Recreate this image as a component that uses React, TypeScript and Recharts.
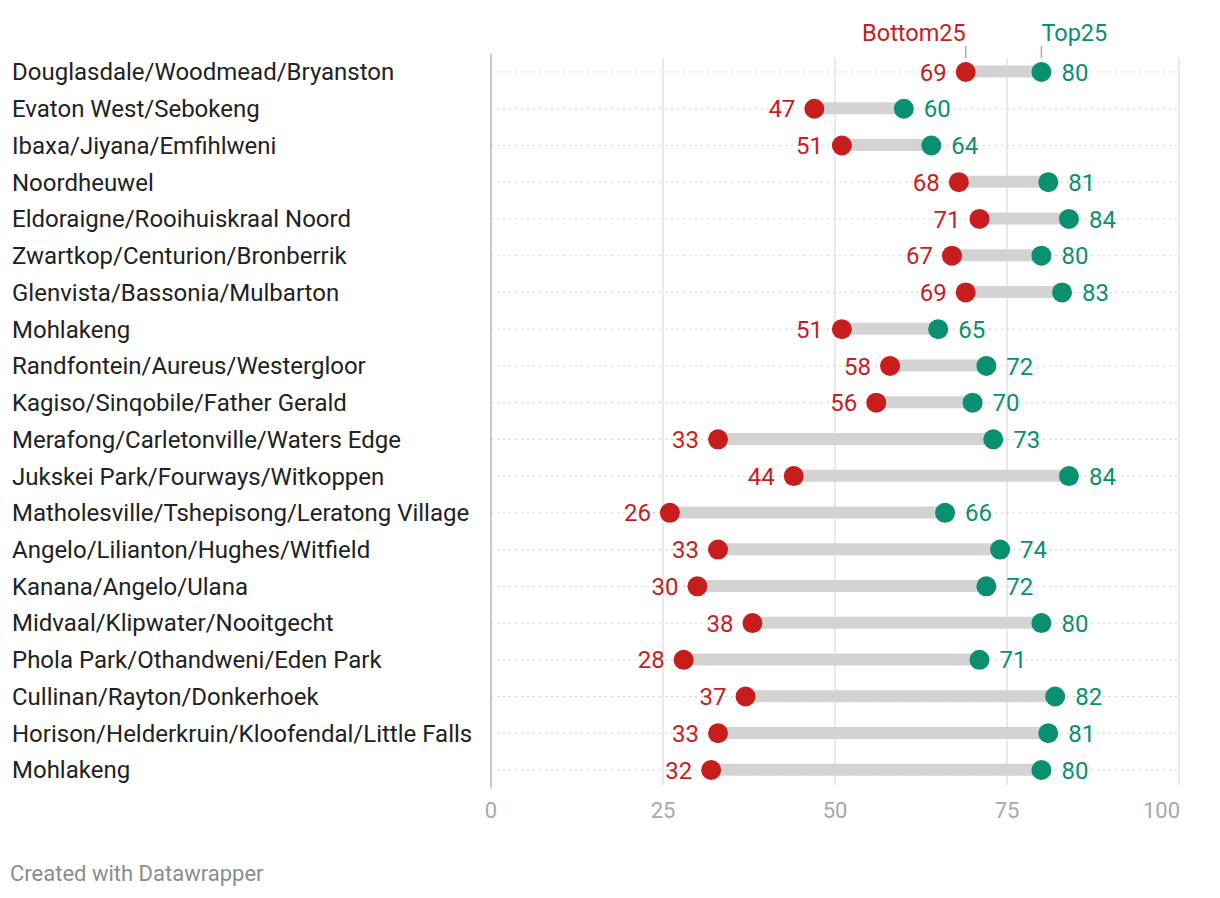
import { Bar, CartesianGrid, ComposedChart, LabelList, Line, ReferenceLine, XAxis, YAxis } from 'recharts';

const areas = [
  'Douglasdale/Woodmead/Bryanston',
  'Evaton West/Sebokeng',
  'Ibaxa/Jiyana/Emfihlweni',
  'Noordheuwel',
  'Eldoraigne/Rooihuiskraal Noord',
  'Zwartkop/Centurion/Bronberrik',
  'Glenvista/Bassonia/Mulbarton',
  'Mohlakeng',
  'Randfontein/Aureus/Westergloor',
  'Kagiso/Sinqobile/Father Gerald',
  'Merafong/Carletonville/Waters Edge',
  'Jukskei Park/Fourways/Witkoppen',
  'Matholesville/Tshepisong/Leratong Village',
  'Angelo/Lilianton/Hughes/Witfield',
  'Kanana/Angelo/Ulana',
  'Midvaal/Klipwater/Nooitgecht',
  'Phola Park/Othandweni/Eden Park',
  'Cullinan/Rayton/Donkerhoek',
  'Horison/Helderkruin/Kloofendal/Little Falls',
  'Mohlakeng',
];
const bottom25 = [69, 47, 51, 68, 71, 67, 69, 51, 58, 56, 33, 44, 26, 33, 30, 38, 28, 37, 33, 32];
const top25 = [80, 60, 64, 81, 84, 80, 83, 65, 72, 70, 73, 84, 66, 74, 72, 80, 71, 82, 81, 80];
const xTicks = [0, 25, 50, 75, 100];

const RED = '#c71e1d';
const GREEN = '#09906f';
const FONT = 'Roboto, sans-serif';

const data = areas.map((name, i) => ({ id: i, name, bottom: bottom25[i], top: top25[i] }));

function AreaTick({ y, payload }: any) {
  return (
    <text x={4} y={y} dy="0.35em" textAnchor="start" fontSize={24} fill="#222" fontFamily={FONT}>
      {areas[payload.value]}
    </text>
  );
}

function ValueTick({ x, y, payload }: any) {
  const last = payload.value === 100;
  return (
    <text x={last ? x + 1 : x} y={y + 22} textAnchor={last ? 'end' : 'middle'} fontSize={22} fill="#a8a8a8" fontFamily={FONT}>
      {payload.value}
    </text>
  );
}

function BottomLabel({ x, y, value, index }: any) {
  return (
    <g>
      <text x={x - 19} y={y} dy="0.36em" textAnchor="end" fontSize={24} fill={RED} fontFamily={FONT}>
        {value}
      </text>
      {index === 0 && (
        <g>
          <line x1={x} x2={x} y1={y - 26} y2={y - 14} stroke="#aaa" strokeWidth={1.5} />
          <text x={x} y={y - 31} textAnchor="end" fontSize={23.5} fill={RED} fontFamily={FONT}>
            Bottom25
          </text>
        </g>
      )}
    </g>
  );
}

function TopLabel({ x, y, value, index }: any) {
  return (
    <g>
      <text x={x + 20} y={y} dy="0.36em" textAnchor="start" fontSize={24} fill={GREEN} fontFamily={FONT}>
        {value}
      </text>
      {index === 0 && (
        <g>
          <line x1={x} x2={x} y1={y - 26} y2={y - 14} stroke="#aaa" strokeWidth={1.5} />
          <text x={x} y={y - 31} textAnchor="start" fontSize={23.5} fill={GREEN} fontFamily={FONT}>
            Top25
          </text>
        </g>
      )}
    </g>
  );
}

export default function App() {
  return (
    <div style={{ position: 'relative', width: 1204, height: 882, fontFamily: FONT }}>
      <ComposedChart
        width={1204}
        height={882}
        layout="vertical"
        data={data}
        margin={{ top: 45.6, right: 33, bottom: 71.6, left: 0 }}
      >
        <CartesianGrid horizontal={false} stroke="#e2e2e2" strokeWidth={1.5} y={50} height={727} />
        {data.map((d) => (
          <ReferenceLine
            key={d.id}
            y={d.id}
            stroke="#cfcfcf"
            strokeDasharray="2 4"
            segment={[{ x: -1.3, y: d.id }, { x: 101.3, y: d.id }]}
            ifOverflow="visible"
          />
        ))}
        <XAxis
          type="number"
          domain={[0, 100]}
          ticks={xTicks}
          axisLine={false}
          tickLine={false}
          tick={<ValueTick />}
          height={30}
        />
        <YAxis
          type="category"
          dataKey="id"
          width={483}
          axisLine={false}
          tickLine={false}
          interval={0}
          tick={<AreaTick />}
        />
        <ReferenceLine x={0} stroke="#bdbdbd" strokeWidth={1.5} ifOverflow="visible" />
        <Bar dataKey={(d: any) => [d.bottom, d.top]} barSize={12} fill="#d3d3d3" isAnimationActive={false} />
        <Line
          dataKey="bottom"
          stroke="none"
          dot={{ r: 10, fill: RED, stroke: 'none' }}
          activeDot={false}
          isAnimationActive={false}
        >
          <LabelList dataKey="bottom" content={<BottomLabel />} />
        </Line>
        <Line
          dataKey="top"
          stroke="none"
          dot={{ r: 10, fill: GREEN, stroke: 'none' }}
          activeDot={false}
          isAnimationActive={false}
        >
          <LabelList dataKey="top" content={<TopLabel />} />
        </Line>
      </ComposedChart>
      <div style={{ position: 'absolute', left: 2, top: 853, fontSize: 22, color: '#8c8c8c' }}>
        Created with Datawrapper
      </div>
    </div>
  );
}
